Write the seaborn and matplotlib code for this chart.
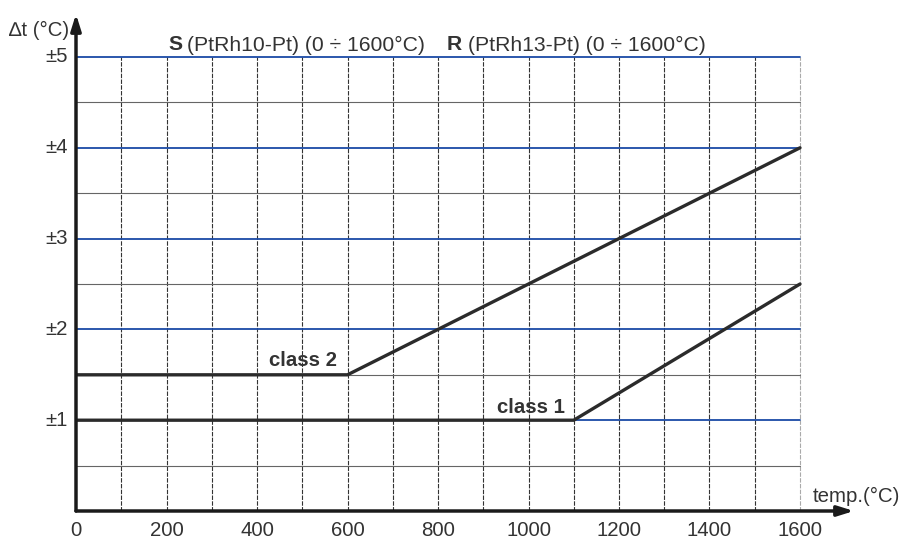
import numpy as np
import pandas as pd
import matplotlib
matplotlib.use("Agg")
import matplotlib.pyplot as plt
import seaborn as sns

# values
temp_class1 = [0, 1100, 1600]
tol_class1 = [1.0, 1.0, 2.5]
temp_class2 = [0, 600, 1600]
tol_class2 = [1.5, 1.5, 4.0]

x_ticks = [0, 200, 400, 600, 800, 1000, 1200, 1400, 1600]
y_ticks = [1, 2, 3, 4, 5]
y_labels = ["±1", "±2", "±3", "±4", "±5"]

W, H = 901, 541
sns.set_theme(style="white")
plt.rcParams['font.family'] = ['Liberation Sans', 'DejaVu Sans']

fig = plt.figure(figsize=(W / 100, H / 100), dpi=100)
# axes placed in pixels: x=0 at 76px, x=1600 at 800px, y=0 at 511px, y=5 at 57px
left, right, bottom, top = 76, 854, 511, 14
ax = fig.add_axes([left / W, 1 - bottom / H, (right - left) / W, (bottom - top) / H])
ax.set_xlim(0, 1600 * (right - left) / (800 - left))
ax.set_ylim(0, 5 * (bottom - top) / (bottom - 57))
for s in ax.spines.values():
    s.set_visible(False)
ax.set_xticks([])
ax.set_yticks([])

txt = "#333333"
blue = "#1a4aa6"
fs = 14.7

# grid
for xv in range(100, 1600, 100):
    ax.plot([xv, xv], [0, 5], color="#333333", lw=0.8, ls=(0, (4, 1.2)), zorder=1)
ax.plot([1600, 1600], [0, 5], color="#aaaaaa", lw=0.8, ls=(0, (4, 1.2)), zorder=1)
for yv in np.arange(0.5, 5, 1.0):
    ax.plot([0, 1600], [yv, yv], color="#666666", lw=0.8, zorder=1)
for yv in y_ticks:
    ax.plot([0, 1600], [yv, yv], color=blue, lw=1.3, zorder=2)

# tolerance lines
df1 = pd.DataFrame({"temp": temp_class1, "tol": tol_class1})
df2 = pd.DataFrame({"temp": temp_class2, "tol": tol_class2})
sns.lineplot(data=df1, x="temp", y="tol", sort=False, estimator=None,
             color="#2b2b2b", lw=2.4, ax=ax, zorder=4)
sns.lineplot(data=df2, x="temp", y="tol", sort=False, estimator=None,
             color="#2b2b2b", lw=2.4, ax=ax, zorder=4)
ax.set_xlabel("")
ax.set_ylabel("")

# axis arrows
ax.annotate("", xy=(1, 0), xytext=(0, 0), xycoords="axes fraction",
            arrowprops=dict(arrowstyle="-|>,head_length=0.8,head_width=0.25",
                            color="#1a1a1a", lw=2.5, shrinkA=0, shrinkB=0), zorder=5)
ax.annotate("", xy=(0, 1), xytext=(0, 0), xycoords="axes fraction",
            arrowprops=dict(arrowstyle="-|>,head_length=0.8,head_width=0.25",
                            color="#1a1a1a", lw=2.5, shrinkA=0, shrinkB=0), zorder=5)

# tick labels
for xv in x_ticks:
    ax.text(xv, -0.21, str(xv), ha="center", va="center", fontsize=fs,
            color=txt, clip_on=False)
for yv, lab in zip(y_ticks, y_labels):
    ax.text(-18, yv, lab, ha="right", va="center", fontsize=fs,
            color=txt, clip_on=False)

# annotations
ax.text(577, 1.55, "class 2", ha="right", va="bottom", fontsize=fs,
        fontweight="bold", color=txt)
ax.text(1081, 1.04, "class 1", ha="right", va="bottom", fontsize=fs,
        fontweight="bold", color=txt)

def fig_text(px, py, s, **kw):
    fig.text(px / W, 1 - py / H, s, **kw)

fs_t = 15.2
fig_text(168, 45, "S", fontsize=fs_t, fontweight="bold", color=txt, va="center", ha="left")
fig_text(187, 45, "(PtRh10-Pt) (0 ÷ 1600°C)", fontsize=fs_t, color=txt, va="center", ha="left")
fig_text(447, 45, "R", fontsize=fs_t, fontweight="bold", color=txt, va="center", ha="left")
fig_text(468, 45, "(PtRh13-Pt) (0 ÷ 1600°C)", fontsize=fs_t, color=txt, va="center", ha="left")
fig_text(69, 30, "∆t (°C)", fontsize=fs, color=txt, va="center", ha="right")
fig_text(900, 496, "temp.(°C)", fontsize=fs, color=txt, va="center", ha="right")

fig.savefig("out.png", dpi=100, facecolor="white")
